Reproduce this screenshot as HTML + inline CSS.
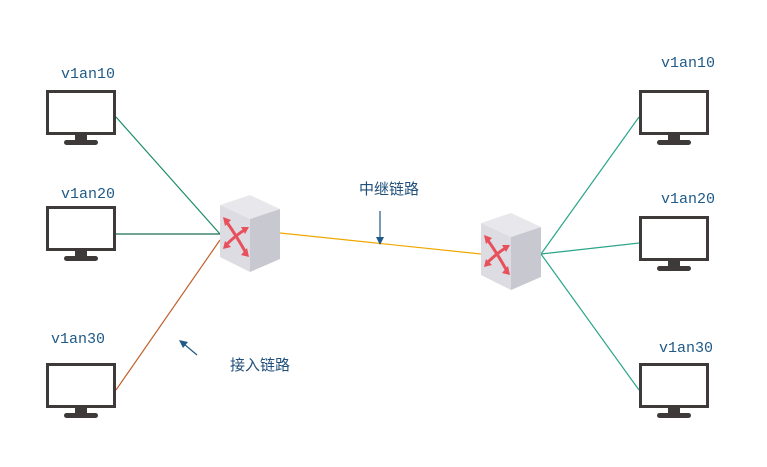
<!DOCTYPE html>
<html><head><meta charset="utf-8"><style>
body{margin:0;background:#fff;width:767px;height:462px;overflow:hidden}
text{font-family:"Liberation Mono","Noto Sans CJK SC",monospace;fill:#1f5a88;font-size:15px}
.cn{font-family:"Liberation Sans","Noto Sans CJK SC",sans-serif;font-size:15px;fill:#1f4f7a}
</style></head><body>
<svg width="767" height="462" xmlns="http://www.w3.org/2000/svg">
<defs>
<g id="mon">
<rect x="1.5" y="1.5" width="67" height="42" fill="#fff" stroke="#3e3a39" stroke-width="3"/>
<rect x="29" y="45" width="12" height="6" fill="#3e3a39"/>
<rect x="18" y="50" width="34" height="5" rx="2.5" fill="#3e3a39"/>
</g>
<g id="sw">
<polygon points="0,10 30,0 60,14 30,24" fill="#e8e8ec"/>
<polygon points="0,10 30,24 30,77 0,62" fill="#dcdce2"/>
<polygon points="30,24 60,14 60,64 30,77" fill="#c8c8d0"/>
<g stroke="#e8505b" stroke-width="3" fill="none" stroke-linecap="round">
<path d="M6,26 Q16,40 26,58"/><path d="M6,50 Q16,40 26,34"/>
</g>
<g fill="#e8505b">
<polygon points="3,22 11,25 5,31"/><polygon points="29,62 21,60 27,53"/>
<polygon points="3,54 5,46 11,52"/><polygon points="29,32 25,39 21,32"/>
</g>
</g>
</defs>
<g stroke-width="1.2" fill="none">
<line x1="116" y1="117" x2="220" y2="234" stroke="#1a8a6a"/>
<line x1="116" y1="234" x2="220" y2="234" stroke="#1d6e55"/>
<line x1="116" y1="390" x2="220" y2="240" stroke="#c0622a"/>
<line x1="280" y1="233" x2="481" y2="254" stroke="#f0a800"/>
<line x1="541" y1="254" x2="639" y2="117" stroke="#2aa58a"/>
<line x1="541" y1="254" x2="639" y2="243" stroke="#2aa58a"/>
<line x1="541" y1="254" x2="639" y2="390" stroke="#2aa58a"/>
</g>
<use href="#mon" x="46" y="90"/>
<use href="#mon" x="46" y="206"/>
<use href="#mon" x="46" y="363"/>
<use href="#mon" x="639" y="90"/>
<use href="#mon" x="639" y="216"/>
<use href="#mon" x="639" y="363"/>
<use href="#sw" x="220" y="195"/>
<use href="#sw" x="481" y="213"/>
<text x="61" y="78">v1an10</text>
<text x="61" y="198">v1an20</text>
<text x="51" y="343">v1an30</text>
<text x="661" y="67">v1an10</text>
<text x="661" y="203">v1an20</text>
<text x="659" y="352">v1an30</text>
<text class="cn" x="359" y="194">中继链路</text>
<text class="cn" x="230" y="370">接入链路</text>
<line x1="380" y1="211" x2="380" y2="238" stroke="#1f5a88" stroke-width="1.2"/>
<polygon points="376,237 384,237 380,245" fill="#1f5a88"/>
<line x1="197" y1="355" x2="184" y2="344" stroke="#1f5a88" stroke-width="1.2"/>
<polygon points="179,340 188,342 183,348" fill="#1f5a88"/>
</svg>
</body></html>
